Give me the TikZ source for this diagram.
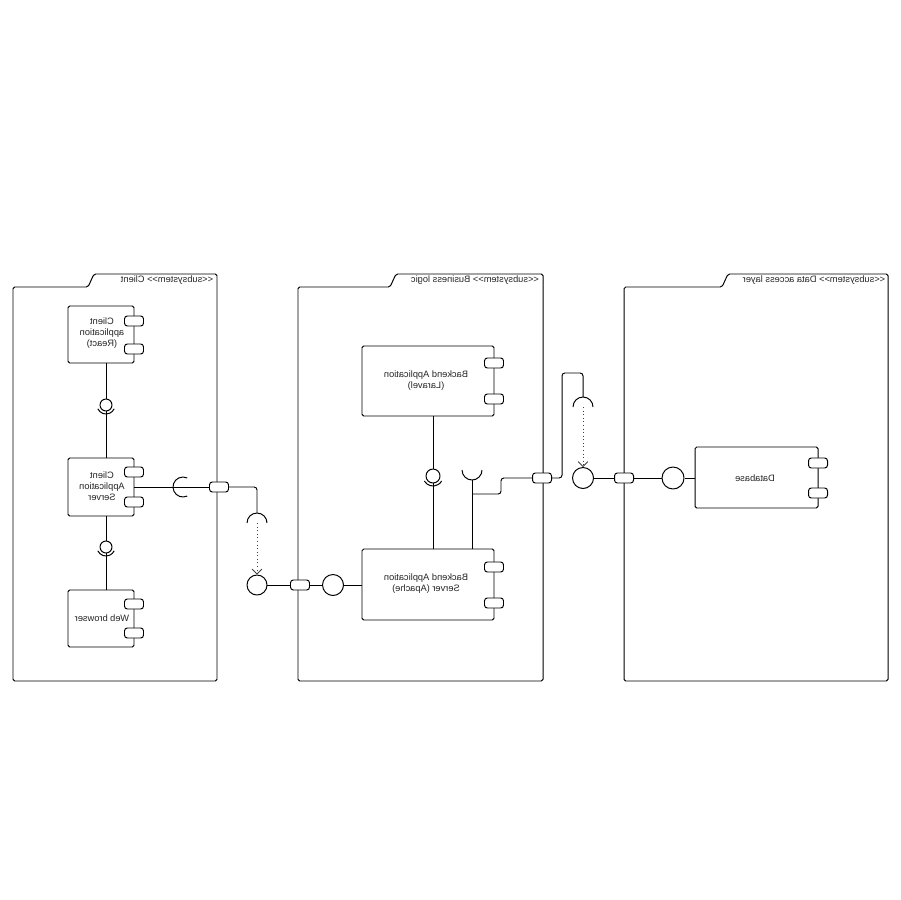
\documentclass[tikz,border=0pt]{standalone}
\usepackage{fontspec}
\setmainfont{Liberation Sans}
\usetikzlibrary{arrows.meta,calc}

\newcommand{\stereo}[1]{\textless{}\textless{}#1\textgreater{}\textgreater{}}

\begin{document}
\begin{tikzpicture}[x=0.25mm,y=-0.25mm, line width=0.7pt, line join=round,
  lbl/.style={xscale=-1, font=\fontsize{6.6}{7.8}\selectfont, align=center, inner sep=0, text=black!85},
  comp/.style={draw, rounded corners=1.2pt, inner sep=0, fill=white},
  port/.style={draw, rounded corners=2pt, inner sep=0, fill=white,
    minimum width={19*0.25mm}, minimum height={10*0.25mm}},
  ball/.style={draw, circle, inner sep=0, fill=white},
  dep/.style={dotted, line width=0.55pt, draw=black!75,
    -{Straight Barb[length=3.5pt,width=7pt,line width=0.55pt]}}
]
\useasboundingbox (0,0) rectangle (900,900);

% ---------- subsystem frames ----------
\draw[rounded corners=1.2pt] (88,287) -- (13,287) -- (13,681) -- (217,681) -- (217,274) -- (94,274) -- cycle;
\draw[rounded corners=1.2pt] (390,287) -- (298,287) -- (298,681) -- (543,681) -- (543,274) -- (396,274) -- cycle;
\draw[rounded corners=1.2pt] (722,287) -- (624,287) -- (624,681) -- (888,681) -- (888,274) -- (728,274) -- cycle;

\node[lbl] (fclient) at (167,280.5) {\stereo{subsystem} Client};
\node[lbl] (fbiz) at (475,280.5) {\stereo{subsystem} Business logic};
\node[lbl] (fdata) at (814,280.5) {\stereo{subsystem} Data access layer};

% ---------- client components ----------
\node[comp, minimum width={66*0.25mm}, minimum height={57*0.25mm}] (capp) at (101,334.5) {};
\node[port] (capp-p1) at (134,321) {};
\node[port] (capp-p2) at (134,349) {};
\node[lbl] (capp-t) at (102,333) {Client\\application\\(React)};

\node[comp, minimum width={66*0.25mm}, minimum height={58*0.25mm}] (cas) at (101,487) {};
\node[port] (cas-p1) at (134,472) {};
\node[port] (cas-p2) at (134,502) {};
\node[lbl] (cas-t) at (102,486) {Client\\Application\\Server};

\node[comp, minimum width={66*0.25mm}, minimum height={57*0.25mm}] (web) at (101,618.5) {};
\node[port] (web-p1) at (134,604) {};
\node[port] (web-p2) at (134,633) {};
\node[lbl] (web-t) at (102,618) {Web browser};

% assembly connectors inside the client
\node[ball, minimum size={12*0.25mm}] (b1) at (106,405) {};
\draw (capp.south -| b1) -- (b1.north);
\draw (b1.south) -- (cas.north -| b1);
\draw (b1.center) ++(155:9) arc[start angle=155, end angle=25, radius=9];

\node[ball, minimum size={12*0.25mm}] (b2) at (106,547) {};
\draw (cas.south -| b2) -- (b2.north);
\draw (b2.south) -- (web.north -| b2);
\draw (b2.center) ++(155:9) arc[start angle=155, end angle=25, radius=9];

% client server out through the frame port
\node[port] (p1) at (219,487) {};
\coordinate (s1) at (183,487);
\draw (cas.east |- s1) -- (p1.west);
\draw (s1) ++(65:10) arc[start angle=65, end angle=295, radius=10];

\coordinate (s2) at (257,523);
\draw[rounded corners=2pt] (p1.east) -| ($(s2)+(0,-10)$);
\draw (s2) ++(180:10) arc[start angle=180, end angle=360, radius=10];

% ---------- business logic ----------
\node[comp, minimum width={132*0.25mm}, minimum height={70*0.25mm}] (lar) at (428,381) {};
\node[port] (lar-p1) at (494,363) {};
\node[port] (lar-p2) at (494,399) {};
\node[lbl] (lar-t) at (426,381) {Backend Application\\(Laravel)};

\node[comp, minimum width={132*0.25mm}, minimum height={71*0.25mm}] (bas) at (428,584.5) {};
\node[port] (bas-p1) at (494,567) {};
\node[port] (bas-p2) at (494,603) {};
\node[lbl] (bas-t) at (426,584) {Backend Application\\Server (Apache)};

\node[ball, minimum size={20*0.25mm}] (b3) at (257,585) {};
\draw[dep] (s2) -- (b3.north);
\node[port] (p2) at (300,585) {};
\node[ball, minimum size={21*0.25mm}] (b4) at (333,585) {};
\draw (b3.east) -- (p2.west);
\draw (p2.east) -- (b4.west);
\draw (b4.east) -- (bas.west |- b4);

\node[ball, minimum size={14*0.25mm}] (b5) at (433,476) {};
\draw (lar.south -| b5) -- (b5.north);
\draw (b5.south) -- (bas.north -| b5);
\draw (b5.center) ++(150:10) arc[start angle=150, end angle=30, radius=10];

\coordinate (s3) at (472,470);
\draw (bas.north -| s3) -- ($(s3)+(0,10)$);
\draw (s3) ++(0:10) arc[start angle=0, end angle=180, radius=10];

\node[port] (p3) at (542,478) {};
\draw[rounded corners=2pt] (472,494) -- (501,494) -- (501,478) -- (p3.west);

\coordinate (s4) at (583,407);
\draw[rounded corners=2pt] (p3.east) -- (562,478) -- (562,373) -- (583,373) -- ($(s4)+(0,-10)$);
\draw (s4) ++(180:10) arc[start angle=180, end angle=360, radius=10];

% ---------- data access layer ----------
\node[ball, minimum size={21*0.25mm}] (b6) at (583,478) {};
\draw[dep] (s4) -- (b6.north);
\node[port] (p4) at (624,478) {};
\node[ball, minimum size={22*0.25mm}] (b7) at (673,478) {};

\node[comp, minimum width={123*0.25mm}, minimum height={61*0.25mm}] (db) at (756.5,477.5) {};
\node[port] (db-p1) at (818,463) {};
\node[port] (db-p2) at (818,493) {};
\node[lbl] (db-t) at (755,478) {Database};

\draw (b6.east) -- (p4.west);
\draw (p4.east) -- (b7.west);
\draw (b7.east) -- (db.west |- b7);
\end{tikzpicture}
\end{document}
